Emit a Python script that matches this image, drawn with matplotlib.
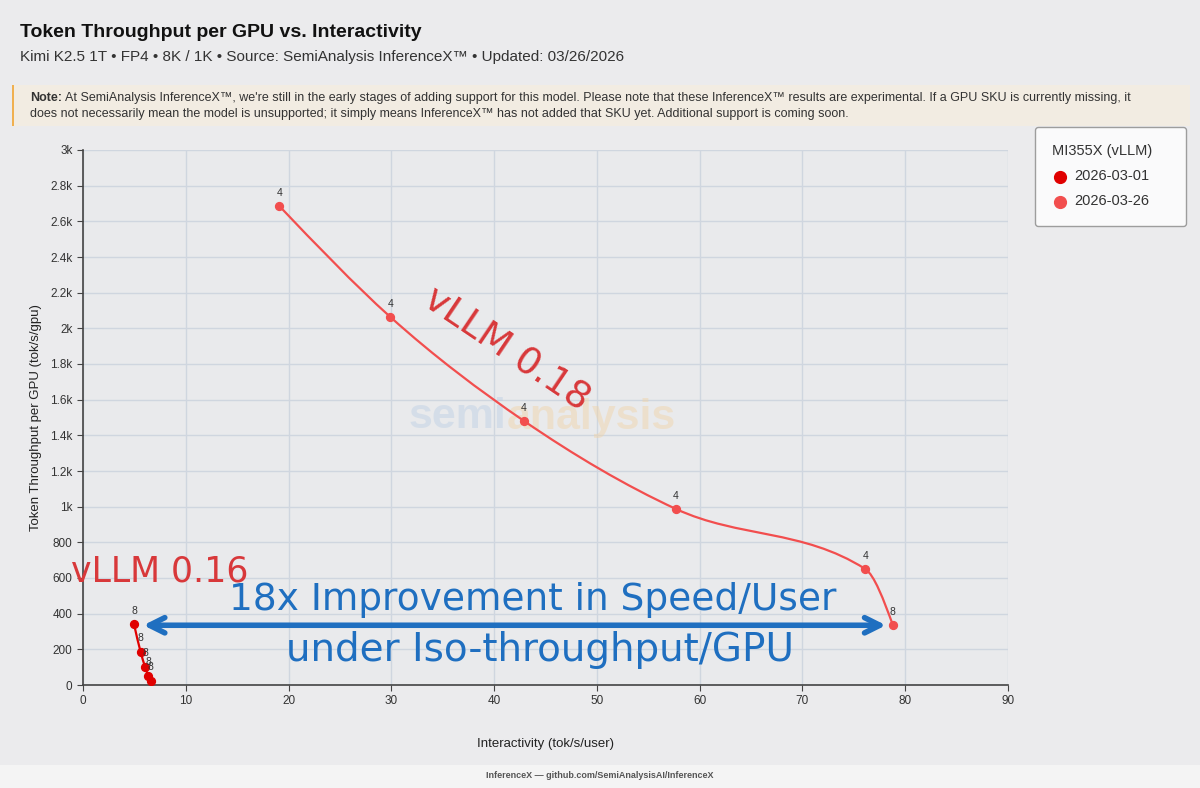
import numpy as np
import matplotlib
matplotlib.use("Agg")
import matplotlib.pyplot as plt
from matplotlib.path import Path
from matplotlib.patches import PathPatch, Rectangle

plt.rcParams["font.family"] = ["Liberation Sans", "DejaVu Sans"]

# data
series_names = ["2026-03-01", "2026-03-26"]
x_0301 = [4.96, 5.6, 6.03, 6.36, 6.6]
y_0301 = [342, 187, 103, 52, 24]
lbl_0301 = ["8", "8", "8", "8", "8"]
x_0326 = [19.1, 29.9, 42.9, 57.7, 76.1, 78.8]
y_0326 = [2686, 2064, 1481, 987, 651, 336]
lbl_0326 = ["4", "4", "4", "4", "4", "8"]
colors = ["#e00000", "#f24e4e"]

y_ticks = [0, 200, 400, 600, 800, 1000, 1200, 1400, 1600, 1800, 2000,
           2200, 2400, 2600, 2800, 3000]
y_tick_labels = ["0", "200", "400", "600", "800", "1k", "1.2k", "1.4k", "1.6k",
                 "1.8k", "2k", "2.2k", "2.4k", "2.6k", "2.8k", "3k"]
x_ticks = [0, 10, 20, 30, 40, 50, 60, 70, 80, 90]


def monotone_path(xs, ys):
    # d3 curveMonotoneX as bezier segments
    xs = np.asarray(xs, float)
    ys = np.asarray(ys, float)
    n = len(xs)
    h = np.diff(xs)
    s = np.diff(ys) / h
    t = np.zeros(n)
    for i in range(1, n - 1):
        p = (s[i - 1] * h[i] + s[i] * h[i - 1]) / (h[i - 1] + h[i])
        t[i] = (np.sign(s[i - 1]) + np.sign(s[i])) * min(abs(s[i - 1]), abs(s[i]), 0.5 * abs(p))
    t[0] = (3 * s[0] - t[1]) / 2
    t[-1] = (3 * s[-1] - t[-2]) / 2
    verts = [(xs[0], ys[0])]
    codes = [Path.MOVETO]
    for i in range(n - 1):
        dx = h[i] / 3
        verts += [(xs[i] + dx, ys[i] + dx * t[i]),
                  (xs[i + 1] - dx, ys[i + 1] - dx * t[i + 1]),
                  (xs[i + 1], ys[i + 1])]
        codes += [Path.CURVE4] * 3
    return Path(verts, codes)


fig = plt.figure(figsize=(12, 7.88), dpi=100)
fig.patch.set_facecolor("#ebebed")
W, H = 1200, 788

# footer band
fig.patches.append(Rectangle((0, 0), 1, 23 / H, transform=fig.transFigure,
                             facecolor="#f4f4f4", edgecolor="none", zorder=0))
fig.text(0.5, 12 / H, "InferenceX — github.com/SemiAnalysisAI/InferenceX",
         ha="center", va="center", fontsize=6.5, color="#555555", fontweight="bold")

# title block
fig.text(20 / W, 1 - 32 / H, "Token Throughput per GPU vs. Interactivity",
         fontsize=14, fontweight="bold", color="#111111", va="baseline",
         transform=fig.transFigure).set_y(1 - 37 / H)
fig.text(20 / W, 1 - 61 / H,
         "Kimi K2.5 1T • FP4 • 8K / 1K • Source: SemiAnalysis InferenceX™ • Updated: 03/26/2026",
         fontsize=11, color="#333333", va="baseline")

# note box
fig.patches.append(Rectangle((12 / W, 1 - 126 / H), 1178 / W, 41 / H,
                             transform=fig.transFigure, facecolor="#f2ece2",
                             edgecolor="none", zorder=1))
fig.patches.append(Rectangle((12 / W, 1 - 126 / H), 2 / W, 41 / H,
                             transform=fig.transFigure, facecolor="#f0b050",
                             edgecolor="none", zorder=2))
note_lbl = fig.text(30 / W, 1 - 101 / H, "Note:", fontsize=9, fontweight="bold",
                    color="#333333", va="baseline")
renderer = fig.canvas.get_renderer()
nb = note_lbl.get_window_extent(renderer)
fig.text((nb.x1 + 3) / W, 1 - 101 / H,
         "At SemiAnalysis InferenceX™, we're still in the early stages of adding support for this model. "
         "Please note that these InferenceX™ results are experimental. If a GPU SKU is currently missing, it",
         fontsize=9, color="#333333", va="baseline")
fig.text(30 / W, 1 - 117 / H,
         "does not necessarily mean the model is unsupported; it simply means InferenceX™ has not added "
         "that SKU yet. Additional support is coming soon.",
         fontsize=9, color="#333333", va="baseline")

ax = fig.add_axes([83 / W, 1 - 685 / H, 925 / W, 535 / H])
ax.set_facecolor("#e9eaec")
ax.set_xlim(0, 90)
ax.set_ylim(0, 3000)
ax.set_xticks(x_ticks)
ax.set_yticks(y_ticks)
ax.set_yticklabels(y_tick_labels)
ax.grid(True, color="#cfd6df", lw=1)
ax.set_axisbelow(True)
for side in ["top", "right"]:
    ax.spines[side].set_visible(False)
for side in ["left", "bottom"]:
    ax.spines[side].set_color("#444444")
    ax.spines[side].set_linewidth(1.2)
ax.tick_params(colors="#444444", labelsize=8.5, length=4, labelcolor="#333333")
ax.set_xlabel("Interactivity (tok/s/user)", fontsize=9.5, color="#222222", labelpad=22)
ax.set_ylabel("Token Throughput per GPU (tok/s/gpu)", fontsize=9.5, color="#222222", labelpad=6)

# watermark
ax.text(41.2, 1500, "semi", fontsize=31, fontweight="bold", color="#bccfe4",
        alpha=0.45, ha="right", va="center", zorder=1)
ax.text(41.2, 1500, "analysis", fontsize=31, fontweight="bold", color="#f1d3a6",
        alpha=0.45, ha="left", va="center", zorder=1)

for xs, ys, lbls, c, name in [(x_0301, y_0301, lbl_0301, colors[0], series_names[0]),
                              (x_0326, y_0326, lbl_0326, colors[1], series_names[1])]:
    ax.add_patch(PathPatch(monotone_path(xs, ys), facecolor="none", edgecolor=c,
                           lw=1.6, zorder=3))
    ax.scatter(xs, ys, s=32, color=c, zorder=4, label=name)
    for xv, yv, lb in zip(xs, ys, lbls):
        ax.annotate(lb, (xv, yv), xytext=(0, 6), textcoords="offset points",
                    ha="center", va="bottom", fontsize=7.5, color="#333333", zorder=5)

leg = fig.legend(title="MI355X (vLLM)", loc="upper left",
                 bbox_to_anchor=(1035 / W, 1 - 227 / H, 151 / W, 100 / H), mode="expand",
                 fontsize=10.5, title_fontsize=10.5, frameon=True, fancybox=True,
                 handletextpad=0.5, borderpad=1.2, labelspacing=0.75, handlelength=1.0,
                 markerscale=1.5, borderaxespad=0)
leg.get_frame().set_facecolor("white")
leg.get_frame().set_edgecolor("#888888")
leg.get_frame().set_linewidth(1.0)
leg._legend_box.align = "left"
leg.get_title().set_color("#333333")
for t in leg.get_texts():
    t.set_color("#333333")

# hand-drawn style annotations
hand = ["DejaVu Sans"]
ax.text(41.2, 1880, "vLLM 0.18", fontsize=27, color="#d8383a", rotation=-34,
        ha="center", va="center", zorder=6, family=hand)
ax.text(7.5, 634, "vLLM 0.16", fontsize=25, color="#d8383a",
        ha="center", va="center", zorder=6, clip_on=False, family=hand)
ax.annotate("", xy=(78.4, 335), xytext=(5.6, 335),
            arrowprops=dict(arrowstyle="<->,head_length=1.1,head_width=0.55",
                            color="#1f6fc0", lw=4), zorder=6)
ax.text(43.8, 477, "18x Improvement in Speed/User", fontsize=27, color="#1f6fc0",
        ha="center", va="center", zorder=6, family=hand)
ax.text(44.5, 196, "under Iso-throughput/GPU", fontsize=28, color="#1f6fc0",
        ha="center", va="center", zorder=6, family=hand)

fig.savefig("out.png", dpi=100, facecolor=fig.get_facecolor())
